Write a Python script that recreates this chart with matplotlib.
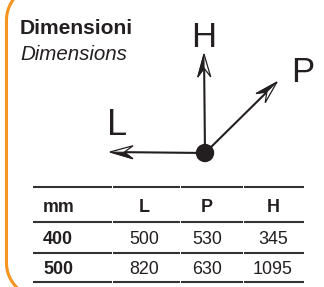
import matplotlib
matplotlib.use("Agg")
import matplotlib.pyplot as plt
from matplotlib.patches import Circle, Polygon
import numpy as np

plt.rcParams['font.family'] = ['Liberation Sans', 'DejaVu Sans']

# ---- data ----
title_it = "Dimensioni"
title_en = "Dimensions"
header_label = "mm"
columns = ["L", "P", "H"]
sizes = ["400", "500"]
L_vals = [500, 820]
P_vals = [530, 630]
H_vals = [345, 1095]

W, H = 324, 287
fig = plt.figure(figsize=(W / 100, H / 100), dpi=100)
ax = fig.add_axes([0, 0, 1, 1])
ax.set_xlim(0, W)
ax.set_ylim(H, 0)
ax.axis('off')

dark = '#231F20'
orange = '#F7931E'
line_c = '#333333'

# orange rounded frame (only left part visible)
r = 34
xl = 6.5
t_top = np.linspace(np.pi, 1.5 * np.pi, 40)
t_bot = np.linspace(0.5 * np.pi, np.pi, 40)[::-1]
top_x = xl + r + r * np.cos(t_top)
top_y = 20 + r * np.sin(t_top)
bot_x = xl + r + r * np.cos(t_bot)
bot_y = 263 + r * np.sin(t_bot)
fx = np.concatenate([top_x[::-1], bot_x])
fy = np.concatenate([top_y[::-1], bot_y])
ax.plot(fx, fy, color=orange, lw=2.2, solid_capstyle='butt')

# titles
ax.text(20, 34, title_it, fontsize=15.1, fontweight='bold', color=dark, va='baseline', ha='left')
ax.text(20, 60, title_en, fontsize=14.8, style='italic', color=dark, va='baseline', ha='left')

# diagram
origin = np.array([205.0, 153.0])

def arrow(tip, head_len=23, head_w=6.5):
    tip = np.array(tip, dtype=float)
    u = tip - origin
    u /= np.hypot(*u)
    n = np.array([u[1], -u[0]])  # left of travel (y down)
    notch = tip - u * head_len * 0.62
    b1 = tip - u * head_len + n * head_w
    b2 = tip - u * head_len - n * head_w
    ax.plot([origin[0], notch[0]], [origin[1], notch[1]], color=dark, lw=1.5,
            solid_capstyle='butt', zorder=2)
    ax.add_patch(Polygon([tip, b1, notch, b2], closed=True, fc='white', ec=dark,
                         lw=0.9, joinstyle='miter', zorder=3))
    ax.add_patch(Polygon([tip, b1, notch], closed=True, fc=dark, ec=dark,
                         lw=0.6, zorder=3))

arrow((204, 54))
arrow((110, 152))
arrow((277, 82))
ax.add_patch(Circle(origin, 8.5, color=dark, zorder=4))

ax.text(204, 47, columns[2], fontsize=25, color=dark, ha='center', va='baseline')
ax.text(303, 82, columns[1], fontsize=25, color=dark, ha='center', va='baseline')
ax.text(117, 135, columns[0], fontsize=26, color=dark, ha='center', va='baseline')

# table
col_edges = [32, 112, 180, 243, 304]
for y in [187, 222, 252.5, 282]:
    for a, b in zip(col_edges[:-1], col_edges[1:]):
        ax.plot([a + 0.5, b - 0.5], [y, y], color=line_c, lw=1.5, solid_capstyle='butt')

col_x = [144, 207, 273]
fs = 12.9
ax.text(43, 212, header_label, fontsize=fs, fontweight='bold', color=dark, va='baseline', ha='left')
for cx, c in zip(col_x, columns):
    ax.text(cx, 212, c, fontsize=fs, fontweight='bold', color=dark, va='baseline', ha='center')

row_base = [244, 274]
for i, s in enumerate(sizes):
    yb = row_base[i]
    ax.text(43, yb, s, fontsize=fs, fontweight='bold', color=dark, va='baseline', ha='left')
    for cx, v in zip(col_x, [L_vals[i], P_vals[i], H_vals[i]]):
        ax.text(cx, yb, str(v), fontsize=fs, color=dark, va='baseline', ha='center')

fig.savefig("out.png", dpi=100)
